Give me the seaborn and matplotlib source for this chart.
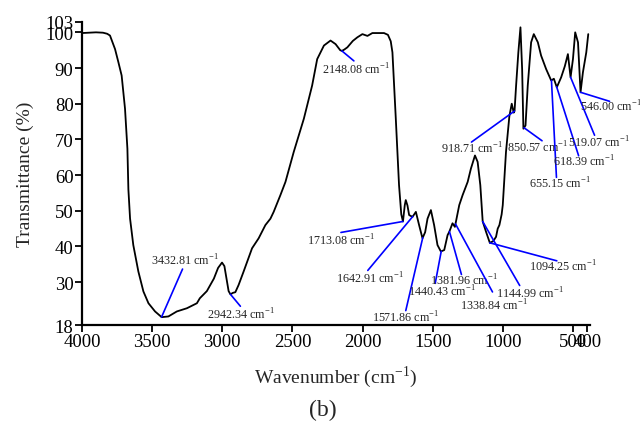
import matplotlib
matplotlib.use("Agg")
import matplotlib.pyplot as plt
import numpy as np
import pandas as pd
import seaborn as sns

# FTIR spectrum, values
wavenumber = [4000, 3900, 3850, 3820, 3800, 3764, 3740, 3717, 3693, 3676, 3669,
              3657, 3634, 3598, 3562, 3526, 3479, 3432, 3384, 3324, 3252, 3181,
              3160, 3110, 3060, 3030, 3002, 2985, 2970, 2955, 2942, 2925, 2907,
              2884, 2848, 2788, 2741, 2693, 2657, 2634, 2586, 2550, 2491, 2419,
              2360, 2324, 2276, 2229, 2193, 2160, 2148, 2130, 2109, 2070, 2038,
              2002, 1966, 1931, 1848, 1820, 1800, 1788, 1764, 1741, 1725, 1713,
              1700, 1693, 1681, 1669, 1645, 1621, 1598, 1574, 1555, 1538, 1514,
              1491, 1467, 1443, 1419, 1395, 1383, 1360, 1343, 1312, 1288, 1252,
              1229, 1200, 1181, 1162, 1145, 1121, 1094, 1070, 1050, 1038, 1026,
              1010, 1002, 979, 955, 938, 924, 918, 907, 891, 876, 864, 855, 840,
              824, 800, 781, 752, 729, 693, 657, 638, 617, 586, 560, 538, 519,
              502, 486, 466, 448, 431, 407, 393]
transmittance = [99.8, 100, 99.9, 99.6, 99.1, 95.3, 91.6, 87.9, 78.6, 67.4, 56.0,
                 47.8, 40.4, 33.0, 27.4, 24.1, 21.8, 20.2, 20.4, 21.8, 22.7, 24.1,
                 25.5, 27.5, 31.0, 34.0, 35.5, 34.5, 31.0, 27.5, 26.6, 27.0, 27.2,
                 29.2, 33.0, 39.5, 42.3, 46.0, 47.8, 49.7, 54.4, 58.1, 66.5, 75.8,
                 85.1, 92.5, 96.3, 97.7, 96.7, 95.0, 94.8, 95.2, 95.8, 97.6, 98.6,
                 99.5, 99.0, 99.8, 99.8, 99.3, 97.5, 94.4, 75.8, 57.2, 49.0, 47.0,
                 51.6, 53.0, 51.5, 48.8, 48.3, 49.7, 46.0, 42.3, 44.0, 47.8, 50.2,
                 46.0, 40.4, 38.6, 39.0, 43.2, 44.1, 46.5, 45.5, 51.6, 54.4, 58.1,
                 61.8, 65.5, 63.7, 57.2, 47.0, 44.1, 41.0, 41.5, 42.7, 45.0, 46.0,
                 49.0, 51.6, 66.5, 76.5, 80.0, 77.5, 78.0, 85.1, 94.4, 101.4, 89.7,
                 73.0, 73.9, 85.1, 97.2, 99.5, 97.2, 93.5, 89.7, 86.5, 87.0, 84.6,
                 87.4, 90.5, 93.9, 87.4, 92.5, 100.0, 97.2, 83.2, 88.8, 94.4, 99.5]

# peak labels and where their leader lines touch the curve
peak_labels = ["3432.81", "2942.34", "2148.08", "1713.08", "1642.91", "1571.86",
               "1440.43", "1381.96", "1338.84", "1144.99", "1094.25", "918.71",
               "850.57", "655.15", "618.39", "519.07", "546.00"]
peak_wn = [3432.81, 2942.34, 2148.08, 1713.08, 1642.91, 1571.86, 1440.43,
           1381.96, 1338.84, 1144.99, 1094.25, 918.71, 850.57, 655.15, 618.39,
           519.07, 448]

# leader line end and label centre, offsets in pixels from the curve point
line_off = [(21, 48), (10, -12), (12, -10), (-62, -11), (-45, -54), (-17, -73),
            (-6, -32), (12, -43), (37, -68), (37, -64), (67, -18), (-43, -31),
            (18, -13), (5, -97), (22, -69), (24, -58), (29, -9)]
text_off = [(23, 57), (11, -20), (14, -18), (-62, -18), (-43, -62), (-17, -79),
            (1, -40), (15, -48), (38, -81), (47, -71), (73, -23), (-43, -37),
            (14, -19), (8, -103), (27, -74), (28, -65), (30, -14)]

df = pd.DataFrame({"wn": wavenumber, "T": transmittance})

sns.set_style("ticks")
plt.rcParams["font.family"] = ["Liberation Serif", "DejaVu Serif"]
plt.rcParams["mathtext.fontset"] = "custom"
plt.rcParams["mathtext.rm"] = "Liberation Serif"

fig = plt.figure(figsize=(6.4, 4.27), dpi=100)
ax = fig.add_axes([0.128, 0.2365, 0.794, 0.7105])

sns.lineplot(data=df, x="wn", y="T", sort=False, estimator=None,
             color="black", linewidth=1.3, ax=ax)

ax.set_xlim(4000, 380)
ax.set_ylim(18, 103)
ax.set_xticks([4000, 3500, 3000, 2500, 2000, 1500, 1000, 500, 400])
ax.set_yticks([18, 30, 40, 50, 60, 70, 80, 90, 100, 103])
ax.tick_params(axis="both", direction="out", length=5, width=1.3,
               labelsize=13.5, colors="black", pad=1)
for side in ["top", "right"]:
    ax.spines[side].set_visible(False)
for side in ["left", "bottom"]:
    ax.spines[side].set_linewidth(1.6)
    ax.spines[side].set_color("black")

sup = r"$^{\mathregular{-1}}$"
ax.set_xlabel("Wavenumber (cm" + sup + ")", fontsize=14, labelpad=9)
ax.set_ylabel("Transmittance (%)", fontsize=14, labelpad=8)

for lab, wn, lo, to in zip(peak_labels, peak_wn, line_off, text_off):
    t = np.interp(wn, wavenumber[::-1], transmittance[::-1])
    ax.annotate("", xy=(wn, t), xytext=lo, textcoords="offset pixels",
                arrowprops=dict(arrowstyle="-", color="blue", lw=1.2,
                                shrinkA=0, shrinkB=0))
    ax.annotate(lab + " cm" + sup, xy=(wn, t), xytext=to,
                textcoords="offset pixels", ha="center", va="center",
                fontsize=8.7, annotation_clip=False)

fig.text(0.505, 0.038, "(b)", ha="center", va="center", fontsize=17)

fig.savefig("out.png", dpi=100)
